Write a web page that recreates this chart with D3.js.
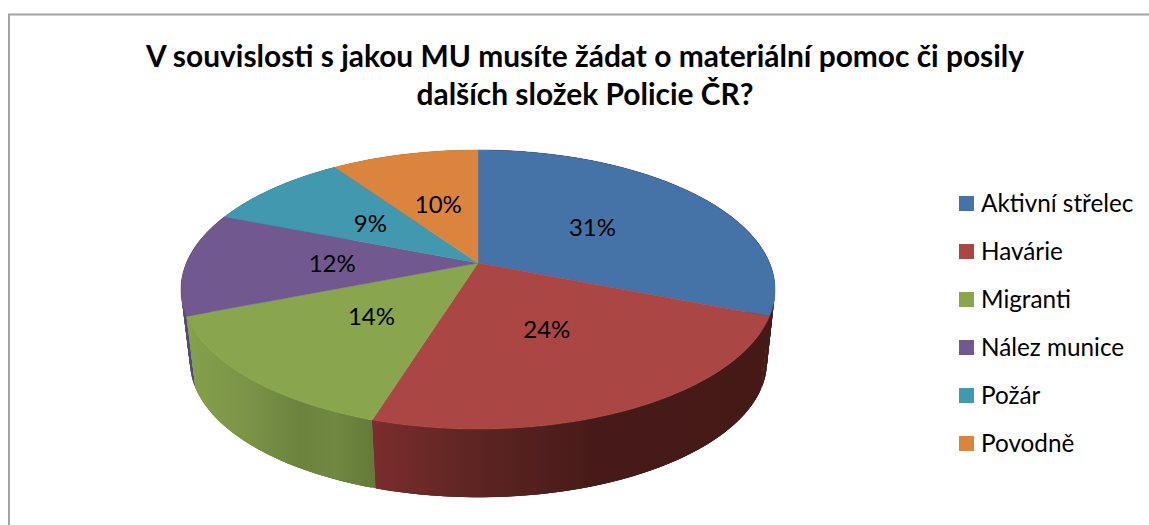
<!DOCTYPE html>
<html><head><meta charset="utf-8">
<script src="https://cdn.jsdelivr.net/npm/d3@7/dist/d3.min.js"></script>
<style>html,body{margin:0;padding:0;background:#fff}svg{display:block}</style>
</head><body><svg id="c" width="1149" height="525"></svg>
<script>
const categories = ["Aktivní střelec","Havárie","Migranti","Nález munice","Požár","Povodně"];
const values = [31,23.8,14.2,12,9.4,9.6];
const colors = ["#4572a7","#aa4643","#89a54e","#71588f","#4198af","#db843d"];
const sideStops = [
  [[770,"#441916"],[772,"#441916"],[776,"#3a5a85"]],
  [[375,"#7a2d2c"],[470,"#5e2523"],[600,"#461a18"],[770,"#441916"]],
  [[190,"#84a04c"],[250,"#7a9346"],[300,"#6c833e"],[335,"#708841"],[375,"#637a38"]],
  [[180,"#5a4578"],[195,"#5a4578"]],
  [[180,"#357f93"],[340,"#357f93"]],
  [[340,"#b56d31"],[480,"#b56d31"]]
];
const titleLines = ["V souvislosti s jakou MU musíte žádat o materiální pomoc či posily","dalších složek Policie ČR?"];

const svg = d3.select("#c");
const FONT='Lato,"Open Sans",sans-serif';

// side gradients, one per slice, in page coordinates
const defs=svg.append("defs");
const grads=defs.selectAll("linearGradient").data(sideStops).join("linearGradient")
  .attr("id",(d,i)=>"side"+i).attr("gradientUnits","userSpaceOnUse")
  .attr("x1",d=>d[0][0]).attr("x2",d=>d[d.length-1][0]).attr("y1",0).attr("y2",0);
grads.selectAll("stop").data(d=>d.map(s=>({o:(s[0]-d[0][0])/(d[d.length-1][0]-d[0][0]),c:s[1]}))).join("stop")
  .attr("offset",s=>s.o).attr("stop-color",s=>s.c);

// frame
svg.append("path").attr("d","M9,525V14.5H1149").attr("fill","none").attr("stroke","#a3a3a3").attr("stroke-width",2);

// title
svg.append("g").selectAll("text").data(titleLines).join("text")
  .attr("x",585).attr("y",(d,i)=>67+i*38).attr("text-anchor","middle")
  .attr("font-family",FONT).attr("font-weight",700).attr("font-size",29.9).attr("fill","#000").text(d=>d);

// projective disk
const K=0.19;
function project(cx,cy,A,B){return (a,f=1)=>{const u=f*Math.sin(a),v=-f*Math.cos(a),w=1-K*v;return [cx+A*u/w,cy+B*v/w];};}
const topDisk=project(478,263,291.6,134.5);
const botDisk=project(478.5,336,283.2,130.6);
const pie=d3.pie().sort(null).value(d=>d)(values);
const line=d3.line();
const STEP=0.012;
function range(a,b,n){return d3.range(n+1).map(i=>a+(b-a)*i/n);}

// side strips, each overlapping the next within its slice so no seams show
const strips=[];
pie.forEach(p=>{
  const n=Math.max(1,Math.ceil((p.endAngle-p.startAngle)/STEP));
  const as=range(p.startAngle,p.endAngle,n);
  for(let i=0;i<n;i++) strips.push({a0:as[i],a1:as[Math.min(n,i+3)],idx:p.index});
});
strips.sort((s,t)=>(-Math.cos(s.a0))-(-Math.cos(t.a0)));
svg.append("g").selectAll("path").data(strips).join("path")
  .attr("d",s=>line([topDisk(s.a0),topDisk(s.a1),botDisk(s.a1),botDisk(s.a0)])+"Z")
  .attr("fill",s=>`url(#side${s.idx})`);

// top face
svg.append("g").selectAll("path").data(pie).join("path")
  .attr("d",p=>{
    const n=Math.ceil((p.endAngle-p.startAngle)/STEP);
    return line([topDisk(0,0),...range(p.startAngle,p.endAngle,n).map(a=>topDisk(a))])+"Z";
  })
  .attr("fill",(p,i)=>colors[i]).attr("stroke",(p,i)=>colors[i]).attr("stroke-width",0.5);

// data labels
svg.append("g").selectAll("text").data(pie).join("text")
  .attr("x",p=>topDisk((p.startAngle+p.endAngle)/2,0.5)[0])
  .attr("y",p=>topDisk((p.startAngle+p.endAngle)/2,0.5)[1]+9)
  .attr("text-anchor","middle").attr("font-family",FONT).attr("font-size",24).attr("fill","#000")
  .text(p=>Math.round(p.value)+"%");

// legend
const ly=d3.scalePoint().domain(categories).range([203.5,443.5]);
const leg=svg.append("g").selectAll("g").data(categories).join("g").attr("transform",d=>`translate(959,${ly(d)})`);
leg.append("rect").attr("x",0).attr("y",-7.5).attr("width",15).attr("height",15).attr("fill",(d,i)=>colors[i]);
leg.append("text").attr("x",22).attr("y",8).attr("font-family",FONT).attr("font-size",24.3).attr("fill","#000").text(d=>d);
</script></body></html>
